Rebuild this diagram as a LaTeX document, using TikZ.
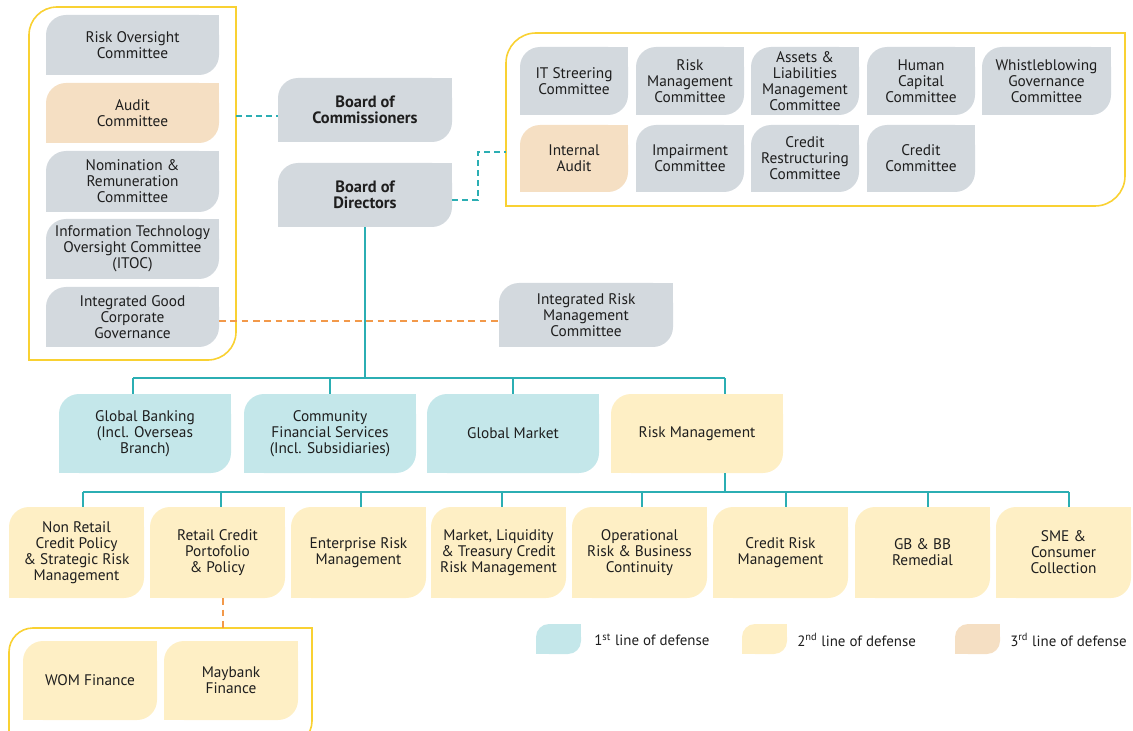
\documentclass[tikz,border=0pt]{standalone}
\usepackage{fontspec}
\setmainfont{PT Sans}

\definecolor{ink}{HTML}{1E1E1E}
\definecolor{grayfill}{HTML}{D3D9DE}
\definecolor{peachfill}{HTML}{F5DFC3}
\definecolor{tealfill}{HTML}{C4E7EA}
\definecolor{yellowfill}{HTML}{FEEFC5}
\definecolor{gold}{HTML}{F9D132}
\definecolor{tealline}{HTML}{2BAEB3}
\definecolor{orangeline}{HTML}{F2994A}

% bold, slightly larger line for the two boards
\newcommand\boardline[1]{{\fontsize{12.3}{12}\selectfont\bfseries #1}}

% leaf-shaped box: rounded top-left and bottom-right corners, square elsewhere
% \leafbox[radius]{name}{x1}{y1}{x2}{y2}{fill}{text}
\newcommand\leafbox[8][20]{%
  \fill[#7, rounded corners={#1*0.75pt}] (#3,#4) rectangle (#5,#6);
  \fill[#7] (#5-#1,#4) rectangle (#5,#4+#1);
  \fill[#7] (#3,#6-#1) rectangle (#3+#1,#6);
  \node[boxtext, minimum width={(#5-#3)*0.75pt}, minimum height={(#6-#4)*0.75pt}]
    (#2) at ({(#3+#5)/2},{(#4+#6)/2}) {#8};
}

% group frame with the same corner pattern, stroked
% \groupframe[radius]{x1}{y1}{x2}{y2}
\newcommand\groupframe[5][28]{%
  \draw[frame, rounded corners={#1*0.75pt}] (#4,#3) -- (#2,#3) -- (#2,#5);
  \draw[frame, rounded corners={#1*0.75pt}] (#2,#5) -- (#4,#5) -- (#4,#3);
}

\begin{document}
\begin{tikzpicture}[x=0.75pt, y=-0.75pt,
  boxtext/.style={align=center, inner sep=0pt, text=ink,
    font=\fontsize{11.5}{12}\selectfont},
  legtext/.style={anchor=west, inner sep=0pt, text=ink,
    font=\fontsize{11.2}{13}\selectfont},
  frame/.style={draw=gold, line width=1.2pt, line cap=rect},
  link/.style={draw=tealline, line width=1.1pt},
  tealdash/.style={draw=tealline, line width=1.1pt, dash pattern=on 4.5pt off 3pt},
  orangedash/.style={draw=orangeline, line width=1.3pt, dash pattern=on 5pt off 3.5pt},
]
\useasboundingbox (0,0) rectangle (1133,731);
\clip (0,0) rectangle (1133,731);

% ---------- board committees (left group) ----------
\groupframe[28]{29}{7}{236}{360}
\leafbox{roc}{46}{15}{219}{75}{grayfill}{Risk Oversight\\Committee}
\leafbox{ac}{46}{83}{219}{143}{peachfill}{Audit\\Committee}
\leafbox{nrc}{46}{151}{219}{212}{grayfill}{Nomination \&\\Remuneration\\Committee}
\leafbox{itoc}{46}{219}{219}{279}{grayfill}{Information Technology\\Oversight Committee\\(ITOC)}
\leafbox{igcg}{46}{287}{219}{347}{grayfill}{Integrated Good\\Corporate\\Governance}

% ---------- boards ----------
\leafbox{boc}{278}{78}{452}{142}{grayfill}{\boardline{Board of}\\\boardline{Commissioners}}
\leafbox{bod}{278}{163}{452}{227}{grayfill}{\boardline{Board of}\\\boardline{Directors}}

% ---------- management committees (right group) ----------
\groupframe[30]{506}{33}{1125}{206}
\leafbox{itsc}{520}{47}{628}{115}{grayfill}{IT Streering\\Committee}
\leafbox{rmc}{636}{47}{744}{115}{grayfill}{Risk\\Management\\Committee}
\leafbox{alc}{751}{47}{859}{115}{grayfill}{Assets \&\\Liabilities\\Management\\Committee}
\leafbox{hcc}{867}{47}{975}{115}{grayfill}{Human\\Capital\\Committee}
\leafbox{wgc}{982}{47}{1111}{115}{grayfill}{Whistleblowing\\Governance\\Committee}
\leafbox{ia}{520}{125}{628}{192}{peachfill}{Internal\\Audit}
\leafbox{imc}{636}{125}{744}{192}{grayfill}{Impairment\\Committee}
\leafbox{crc}{751}{125}{859}{192}{grayfill}{Credit\\Restructuring\\Committee}
\leafbox{cc}{867}{125}{975}{192}{grayfill}{Credit\\Committee}

\leafbox{irmc}{499}{283}{673}{347}{grayfill}{Integrated Risk\\Management\\Committee}

% ---------- business lines ----------
\leafbox{gb}{59}{394}{231}{473}{tealfill}{Global Banking\\(Incl. Overseas\\Branch)}
\leafbox{cfs}{244}{394}{416}{473}{tealfill}{Community\\Financial Services\\(Incl. Subsidiaries)}
\leafbox{gm}{427}{394}{599}{473}{tealfill}{Global Market}
\leafbox{rm}{611}{394}{783}{473}{yellowfill}{Risk Management}

% ---------- risk management units ----------
\leafbox{nrcp}{9}{507}{144}{598}{yellowfill}{Non Retail\\Credit Policy\\\& Strategic Risk\\Management}
\leafbox{rcp}{150}{507}{285}{598}{yellowfill}{Retail Credit\\Portofolio\\\& Policy}
\leafbox{erm}{291}{507}{426}{598}{yellowfill}{Enterprise Risk\\Management}
\leafbox{mlt}{431}{507}{566}{598}{yellowfill}{Market, Liquidity\\\& Treasury Credit\\Risk Management}
\leafbox{orb}{572}{507}{707}{598}{yellowfill}{Operational\\Risk \& Business\\Continuity}
\leafbox{crm}{713}{507}{848}{598}{yellowfill}{Credit Risk\\Management}
\leafbox{gbr}{855}{507}{990}{598}{yellowfill}{GB \& BB\\Remedial}
\leafbox{sme}{996}{507}{1131}{598}{yellowfill}{SME \&\\Consumer\\Collection}

% ---------- subsidiaries ----------
\groupframe[24]{9}{628}{312}{745}
\leafbox{wom}{23}{641}{157}{720}{yellowfill}{WOM Finance}
\leafbox{mbf}{164}{641}{298}{720}{yellowfill}{Maybank\\Finance}

% ---------- connectors ----------
\coordinate (lgE) at (236,116);
\draw[tealdash] (lgE) -- (lgE -| boc.west);

\coordinate (bodR) at (452,200);
\coordinate (trW) at (506,152);
\draw[tealdash] (bodR) -- ++(26,0) |- (trW);

\coordinate (igE) at (219,321);
\draw[orangedash] (igE) -- (igE -| irmc.west);

\coordinate (b2L) at (133,378);
\coordinate (b2R) at (725,378);
\draw[link] (bod.south) -- (bod.south |- b2L);
\draw[link] (b2L) -- (b2R);
\draw[link] (b2L) -- (b2L |- gb.north);
\draw[link] (cfs.north |- b2L) -- (cfs.north);
\draw[link] (gm.north |- b2L) -- (gm.north);
\draw[link] (b2R) -- (b2R |- rm.north);

\coordinate (d1) at (83,492);
\coordinate (d2) at (221,492);
\coordinate (d3) at (361,492);
\coordinate (d4) at (502,492);
\coordinate (d5) at (642,492);
\coordinate (d6) at (786,492);
\coordinate (d7) at (928,492);
\coordinate (d8) at (1069,492);
\draw[link] (b2R |- rm.south) -- (b2R |- d1);
\draw[link] (d1) -- (d8);
\draw[link] (d1) -- (d1 |- nrcp.north);
\draw[link] (d2) -- (d2 |- rcp.north);
\draw[link] (d3) -- (d3 |- erm.north);
\draw[link] (d4) -- (d4 |- mlt.north);
\draw[link] (d5) -- (d5 |- orb.north);
\draw[link] (d6) -- (d6 |- crm.north);
\draw[link] (d7) -- (d7 |- gbr.north);
\draw[link] (d8) -- (d8 |- sme.north);

\coordinate (subTop) at (223,628);
\draw[orangedash] (subTop |- rcp.south) -- (subTop);

% ---------- legend ----------
\leafbox[13]{lg1}{536}{624}{581}{654}{tealfill}{}
\node[legtext] (lt1) at (594,640) {1\textsuperscript{st} line of defense};
\leafbox[13]{lg2}{742}{624}{787}{654}{yellowfill}{}
\node[legtext] (lt2) at (797,640) {2\textsuperscript{nd} line of defense};
\leafbox[13]{lg3}{955}{624}{1000}{654}{peachfill}{}
\node[legtext] (lt3) at (1010,640) {3\textsuperscript{rd} line of defense};
\end{tikzpicture}
\end{document}
